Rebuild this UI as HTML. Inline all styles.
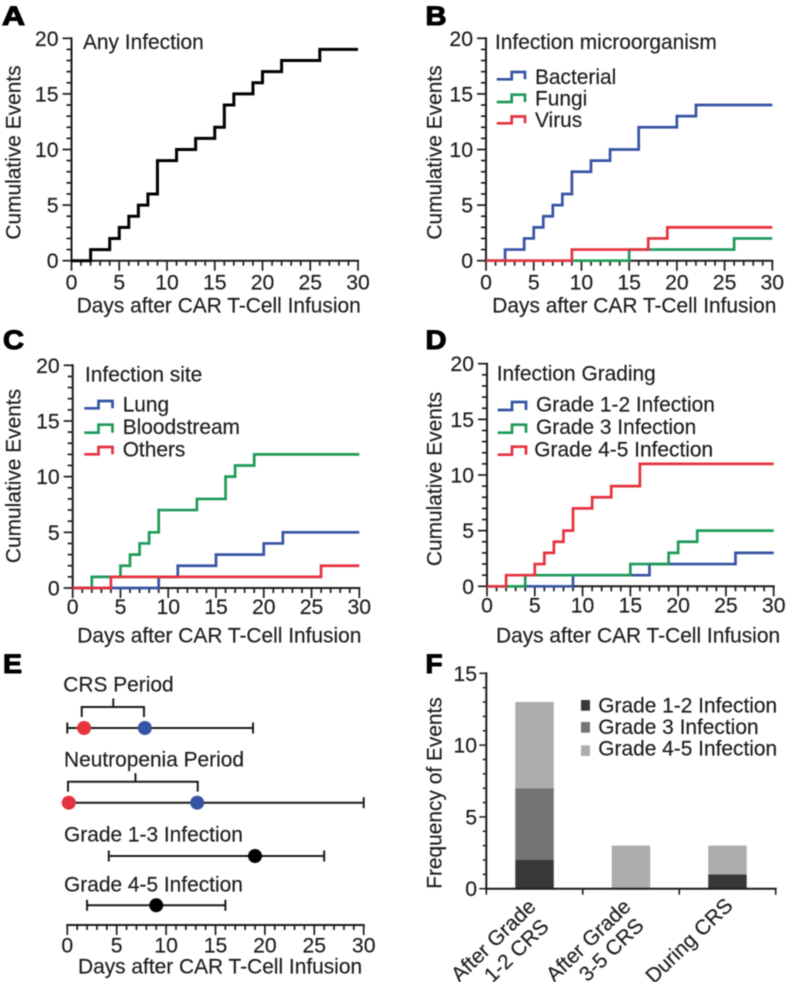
<!DOCTYPE html>
<html lang="en">
<head>
<meta charset="utf-8">
<title>Infection events after CAR T-cell infusion</title>
<style>
html,body{margin:0;padding:0;background:#fff;}
svg{display:block;filter:blur(0.4px);}
text{font-family:"Liberation Sans",Arial,sans-serif;font-size:20.9px;fill:#1c1a1a;stroke:#1c1a1a;stroke-width:0.15px;}
.tick{font-size:21.2px;}
.panel{font-size:27px;font-weight:bold;fill:#000;stroke:#000;stroke-width:1.1px;}
.key{fill:none;stroke-width:2.7;}
</style>
</head>
<body>
<svg id="fig" xmlns="http://www.w3.org/2000/svg" width="787" height="982" viewBox="0 0 787 982">
  <rect x="0" y="0" width="787" height="982" fill="#fff"/>

  <text class="panel" x="2" y="25" textLength="23" lengthAdjust="spacingAndGlyphs">A</text>
  <text class="panel" x="425.5" y="25" textLength="21" lengthAdjust="spacingAndGlyphs">B</text>
  <text class="panel" x="3" y="349" textLength="21" lengthAdjust="spacingAndGlyphs">C</text>
  <text class="panel" x="425.5" y="349" textLength="21" lengthAdjust="spacingAndGlyphs">D</text>
  <text class="panel" x="3" y="673" textLength="19" lengthAdjust="spacingAndGlyphs">E</text>
  <text class="panel" x="425.5" y="673" textLength="17" lengthAdjust="spacingAndGlyphs">F</text>

  <!-- Panel A text -->
  <text x="83" y="49">Any Infection</text>
  <text transform="translate(20.7 152.5) rotate(-90)" text-anchor="middle">Cumulative Events</text>
  <text x="76.7" y="312.7">Days after CAR T-Cell Infusion</text>

  <!-- Panel B text -->
  <text x="495" y="49">Infection microorganism</text>
  <text transform="translate(441.7 152.5) rotate(-90)" text-anchor="middle">Cumulative Events</text>
  <text x="492.3" y="312.7">Days after CAR T-Cell Infusion</text>
  <polyline class="key" stroke="#3653a4" points="496.7,79.3 511.7,79.3 511.7,72 525,72 525,79.3"/>
  <text x="535" y="84">Bacterial</text>
  <polyline class="key" stroke="#1f9a58" points="496.7,102 511.7,102 511.7,94.7 525,94.7 525,102"/>
  <text x="535" y="105.5">Fungi</text>
  <polyline class="key" stroke="#e5323f" points="496.7,123.3 511.7,123.3 511.7,116.5 525,116.5 525,123.3"/>
  <text x="535" y="127">Virus</text>

  <!-- Panel C text -->
  <text x="85" y="381.7">Infection site</text>
  <text transform="translate(20.7 476) rotate(-90)" text-anchor="middle">Cumulative Events</text>
  <text x="77.3" y="642.7">Days after CAR T-Cell Infusion</text>
  <polyline class="key" stroke="#3653a4" points="84.3,408.3 98.5,408.3 98.5,401 112.5,401 112.5,408.3"/>
  <text x="122.7" y="411.7">Lung</text>
  <polyline class="key" stroke="#1f9a58" points="84.3,432.7 98.5,432.7 98.5,424.7 112.5,424.7 112.5,432.7"/>
  <text x="122.7" y="434">Bloodstream</text>
  <polyline class="key" stroke="#e5323f" points="84.3,454.3 98.5,454.3 98.5,447 112.5,447 112.5,454.3"/>
  <text x="122.7" y="456.7">Others</text>

  <!-- Panel D text -->
  <text x="496.7" y="380.7">Infection Grading</text>
  <text transform="translate(441.7 479) rotate(-90)" text-anchor="middle">Cumulative Events</text>
  <text x="496" y="642.7">Days after CAR T-Cell Infusion</text>
  <polyline class="key" stroke="#3653a4" points="497.7,410 512,410 512,402 526,402 526,410"/>
  <text x="536" y="411.3">Grade 1-2 Infection</text>
  <polyline class="key" stroke="#1f9a58" points="497.7,432.7 512,432.7 512,424.7 526,424.7 526,432.7"/>
  <text x="536" y="434">Grade 3 Infection</text>
  <polyline class="key" stroke="#e5323f" points="497.7,454.7 512,454.7 512,446.7 526,446.7 526,454.7"/>
  <text x="534.3" y="456.7">Grade 4-5 Infection</text>

  <!-- Panel E text -->
  <text x="63.3" y="691.7">CRS Period</text>
  <text x="64" y="766.7">Neutropenia Period</text>
  <text x="64" y="841.7">Grade 1-3 Infection</text>
  <text x="64" y="891.7">Grade 4-5 Infection</text>
  <text x="78" y="973.3">Days after CAR T-Cell Infusion</text>

  <!-- Panel F text -->
  <text transform="translate(441.7 793) rotate(-90)" text-anchor="middle">Frequency of Events</text>
  <rect x="581" y="700" width="9" height="10.7" fill="#3a3837"/>
  <text x="598.3" y="712.3">Grade 1-2 Infection</text>
  <rect x="581" y="722" width="9" height="10.7" fill="#767473"/>
  <text x="598.3" y="734">Grade 3 Infection</text>
  <rect x="581" y="745.3" width="9" height="10.7" fill="#aeacab"/>
  <text x="598.3" y="755.7">Grade 4-5 Infection</text>
  <text transform="translate(537 908) rotate(-44)" text-anchor="end">After Grade</text>
  <text transform="translate(550 928) rotate(-44)" text-anchor="end">1-2 CRS</text>
  <text transform="translate(632 908) rotate(-44)" text-anchor="end">After Grade</text>
  <text transform="translate(645 927) rotate(-44)" text-anchor="end">3-5 CRS</text>
  <text transform="translate(734 907) rotate(-44)" text-anchor="end">During CRS</text>
</svg>
<script>
// Shared axis labels
const xTickLabels = [0, 5, 10, 15, 20, 25, 30];
const yTickLabels = [0, 5, 10, 15, 20];

// Panel A
const anyDays = [0, 2, 4, 5, 6, 7, 8, 9, 11, 13, 15, 16, 17, 19, 20, 22, 26, 30];
const anyCounts = [0, 1, 2, 3, 4, 5, 6, 9, 10, 11, 12, 14, 15, 16, 17, 18, 19, 19];

// Panel B
const bacterialDays = [0, 2, 4, 5, 6, 7, 8, 9, 11, 13, 16, 20, 22, 30];
const bacterialCounts = [0, 1, 2, 3, 4, 5, 6, 8, 9, 10, 12, 13, 14, 14];
const fungiDays = [0, 15, 26, 30];
const fungiCounts = [0, 1, 2, 2];
const virusDays = [0, 9, 17, 19, 30];
const virusCounts = [0, 1, 2, 3, 3];

// Panel C
const lungDays = [0, 9, 11, 15, 20, 22, 30];
const lungCounts = [0, 1, 2, 3, 4, 5, 5];
const bloodDays = [0, 2, 5, 6, 7, 8, 9, 13, 16, 17, 19, 30];
const bloodCounts = [0, 1, 2, 3, 4, 5, 7, 8, 10, 11, 12, 12];
const othersDays = [0, 4, 26, 30];
const othersCounts = [0, 1, 2, 2];

// Panel D
const grade12Days = [0, 9, 17, 26, 30];
const grade12Counts = [0, 1, 2, 3, 3];
const grade3Days = [0, 4, 15, 19, 20, 22, 30];
const grade3Counts = [0, 1, 2, 3, 4, 5, 5];
const grade45Days = [0, 2, 5, 6, 7, 8, 9, 11, 13, 16, 30];
const grade45Counts = [0, 1, 2, 3, 4, 5, 7, 8, 9, 11, 11];

// Panel E (days)
const rowNames = ['crs', 'neutropenia', 'grade-1-3', 'grade-4-5'];
const rangeLow = [0, 0, 4.2, 2];
const rangeHigh = [18.8, 30, 26, 16];
const onsetMarker = [1.7, 0.15, null, null];
const endMarker = [7.85, 13.15, null, null];
const medianMarker = [null, null, 19, 9];
const bracketLow = [1.46, 0.07, null, null];
const bracketMid = [4.65, 6.9, null, null];
const bracketHigh = [7.76, 13.2, null, null];

// Panel F
const categories = ['after-grade-1-2-crs', 'after-grade-3-5-crs', 'during-crs'];
const stackGrade12 = [2, 0, 1];
const stackGrade3 = [5, 0, 0];
const stackGrade45 = [6, 3, 2];
const freqTickLabels = [0, 5, 10, 15];

const SVGNS = 'http://www.w3.org/2000/svg';
const fig = document.getElementById('fig');
const INK = '#1c1a1a';

function line(name, x1, y1, x2, y2, w) {
  const el = document.createElementNS(SVGNS, 'line');
  
  
  el.setAttribute('x1', x1);
  el.setAttribute('y1', y1);
  el.setAttribute('x2', x2);
  el.setAttribute('y2', y2);
  el.setAttribute('stroke', INK);
  el.setAttribute('stroke-width', w || 2);
  fig.appendChild(el);
  return el;
}

function label(name, str, x, y, anchor) {
  const el = document.createElementNS(SVGNS, 'text');
  
  
  el.setAttribute('class', 'tick');
  el.setAttribute('x', x);
  el.setAttribute('y', y);
  el.setAttribute('text-anchor', anchor);
  el.textContent = str;
  fig.appendChild(el);
  return el;
}

function xAxis(prefix, sx, yPos, labelY) {
  const last = xTickLabels[xTickLabels.length - 1];
  line(prefix + '-x-axis', sx(0) - 1, yPos, sx(last) + 1, yPos);
  for (let d = 0; d <= last; d++) {
    const major = d % 5 === 0;
    line(prefix + '-x-tick', sx(d), yPos, sx(d), yPos + (major ? 10 : 5), 1.7);
  }
  xTickLabels.forEach(function (t) {
    label(prefix + '-x-tick-label', String(t), sx(t), labelY, 'middle');
  });
}

function yAxis(prefix, sy, x, ticks, minorStep) {
  const top = ticks[ticks.length - 1];
  line(prefix + '-y-axis', x, sy(top) - 1, x, sy(0) + 1);
  for (let v = 0; v <= top; v += minorStep) {
    const major = v % 5 === 0;
    line(prefix + '-y-tick', x - (major ? 9 : 5), sy(v), x, sy(v), 1.7);
  }
  ticks.forEach(function (t) {
    label(prefix + '-y-tick-label', String(t), x - 13, sy(t) + 7.5, 'end');
  });
}

function stepLine(name, days, counts, color, sx, sy, width) {
  let d = 'M' + sx(days[0]) + ' ' + sy(counts[0]);
  for (let i = 1; i < days.length; i++) {
    d += 'H' + sx(days[i]) + 'V' + sy(counts[i]);
  }
  const el = document.createElementNS(SVGNS, 'path');
  
  
  el.setAttribute('d', d);
  el.setAttribute('fill', 'none');
  el.setAttribute('stroke', color);
  el.setAttribute('stroke-width', width);
  fig.appendChild(el);
}

function stepPanel(prefix, box, series) {
  const maxDay = xTickLabels[xTickLabels.length - 1];
  const maxY = yTickLabels[yTickLabels.length - 1];
  const sx = function (v) { return box.x0 + (v / maxDay) * (box.x1 - box.x0); };
  const sy = function (v) { return box.y0 - (v / maxY) * (box.y0 - box.y1); };
  xAxis(prefix, sx, box.y0, box.tickY);
  yAxis(prefix, sy, box.x0, yTickLabels, 1);
  series.forEach(function (s) {
    stepLine(s.name, s.days, s.counts, s.color, sx, sy, s.width);
  });
}

const BLUE = '#3653a4', GREEN = '#1f9a58', RED = '#e5323f';

stepPanel('panel-a', { x0: 71.5, x1: 358, y0: 260.7, y1: 38.3, tickY: 289.5 }, [
  { name: 'series-any-infection', days: anyDays, counts: anyCounts, color: '#000', width: 3 }
]);
stepPanel('panel-b', { x0: 486, x1: 772.3, y0: 260.7, y1: 38.3, tickY: 289.5 }, [
  { name: 'series-bacterial', days: bacterialDays, counts: bacterialCounts, color: BLUE, width: 2.7 },
  { name: 'series-fungi', days: fungiDays, counts: fungiCounts, color: GREEN, width: 2.7 },
  { name: 'series-virus', days: virusDays, counts: virusCounts, color: RED, width: 2.7 }
]);
stepPanel('panel-c', { x0: 72.7, x1: 359.3, y0: 588, y1: 365.3, tickY: 614 }, [
  { name: 'series-lung', days: lungDays, counts: lungCounts, color: BLUE, width: 2.7 },
  { name: 'series-bloodstream', days: bloodDays, counts: bloodCounts, color: GREEN, width: 2.7 },
  { name: 'series-others', days: othersDays, counts: othersCounts, color: RED, width: 2.7 }
]);
stepPanel('panel-d', { x0: 487, x1: 773.7, y0: 586.3, y1: 363.7, tickY: 612.7 }, [
  { name: 'series-grade-1-2', days: grade12Days, counts: grade12Counts, color: BLUE, width: 2.7 },
  { name: 'series-grade-3', days: grade3Days, counts: grade3Counts, color: GREEN, width: 2.7 },
  { name: 'series-grade-4-5', days: grade45Days, counts: grade45Counts, color: RED, width: 2.7 }
]);

function dot(name, cx, cy, color) {
  const el = document.createElementNS(SVGNS, 'circle');
  
  
  el.setAttribute('cx', cx);
  el.setAttribute('cy', cy);
  el.setAttribute('r', 7);
  el.setAttribute('fill', color);
  fig.appendChild(el);
}

(function panelE() {
  const x0 = 67.3, x1 = 363.7, maxDay = xTickLabels[xTickLabels.length - 1];
  const sx = function (v) { return x0 + (v / maxDay) * (x1 - x0); };
  const rowTop = function (i) { return [728, 802.7, 856, 905.3][i]; };
  xAxis('panel-e', sx, 925, 952.7);
  rowNames.forEach(function (row, i) {
    const y = rowTop(i);
    line(row + '-range', sx(rangeLow[i]), y, sx(rangeHigh[i]), y);
    line(row + '-range-cap-low', sx(rangeLow[i]), y - 5.5, sx(rangeLow[i]), y + 5.5);
    line(row + '-range-cap-high', sx(rangeHigh[i]), y - 5.5, sx(rangeHigh[i]), y + 5.5);
    if (bracketLow[i] !== null) {
      const top = y - 21;
      line(row + '-bracket-top', sx(bracketLow[i]) - 1, top, sx(bracketHigh[i]) + 1, top);
      line(row + '-bracket-left', sx(bracketLow[i]), top, sx(bracketLow[i]), top + 10);
      line(row + '-bracket-right', sx(bracketHigh[i]), top, sx(bracketHigh[i]), top + 10);
      line(row + '-bracket-stem', sx(bracketMid[i]), top, sx(bracketMid[i]), top - 8.5);
    }
    if (onsetMarker[i] !== null) dot(row + '-onset-marker', sx(onsetMarker[i]), y, '#e5323f');
    if (endMarker[i] !== null) dot(row + '-end-marker', sx(endMarker[i]), y, '#3653a4');
    if (medianMarker[i] !== null) dot(row + '-median-marker', sx(medianMarker[i]), y, '#000');
  });
})();

(function panelF() {
  const x0 = 486.3, x1 = 775.7, y0 = 888.7, y1 = 673.3;
  const maxV = freqTickLabels[freqTickLabels.length - 1];
  const sy = function (v) { return y0 - (v / maxV) * (y0 - y1); };
  const band = (x1 - x0) / categories.length;
  const barW = 38.5;
  const layers = [
    { name: 'grade-1-2', values: stackGrade12, color: '#3a3837' },
    { name: 'grade-3', values: stackGrade3, color: '#767473' },
    { name: 'grade-4-5', values: stackGrade45, color: '#aeacab' }
  ];
  categories.forEach(function (cat, i) {
    let base = 0;
    const cx = x0 + band * (i + 0.5);
    layers.forEach(function (layer) {
      const v = layer.values[i];
      if (v > 0) {
        const el = document.createElementNS(SVGNS, 'rect');
        
        
        el.setAttribute('x', cx - barW / 2);
        el.setAttribute('y', sy(base + v));
        el.setAttribute('width', barW);
        el.setAttribute('height', sy(base) - sy(base + v));
        el.setAttribute('fill', layer.color);
        fig.appendChild(el);
      }
      base += v;
    });
  });
  line('panel-f-x-axis', x0 - 1, y0, x1 + 1, y0);
  for (let i = 0; i <= categories.length; i++) {
    line('panel-f-x-tick', x0 + band * i, y0, x0 + band * i, y0 + 6, 1.6);
  }
  line('panel-f-y-axis', x0, sy(maxV) - 1, x0, y0);
  for (let v = 0; v <= maxV; v++) {
    line('panel-f-y-tick', x0 - (v % 5 === 0 ? 7 : 3.5), sy(v), x0, sy(v), 1.5);
  }
  freqTickLabels.forEach(function (t) {
    label('panel-f-y-tick-label', String(t), 477, sy(t) + 7.5, 'end');
  });
})();
</script>
</body>
</html>
